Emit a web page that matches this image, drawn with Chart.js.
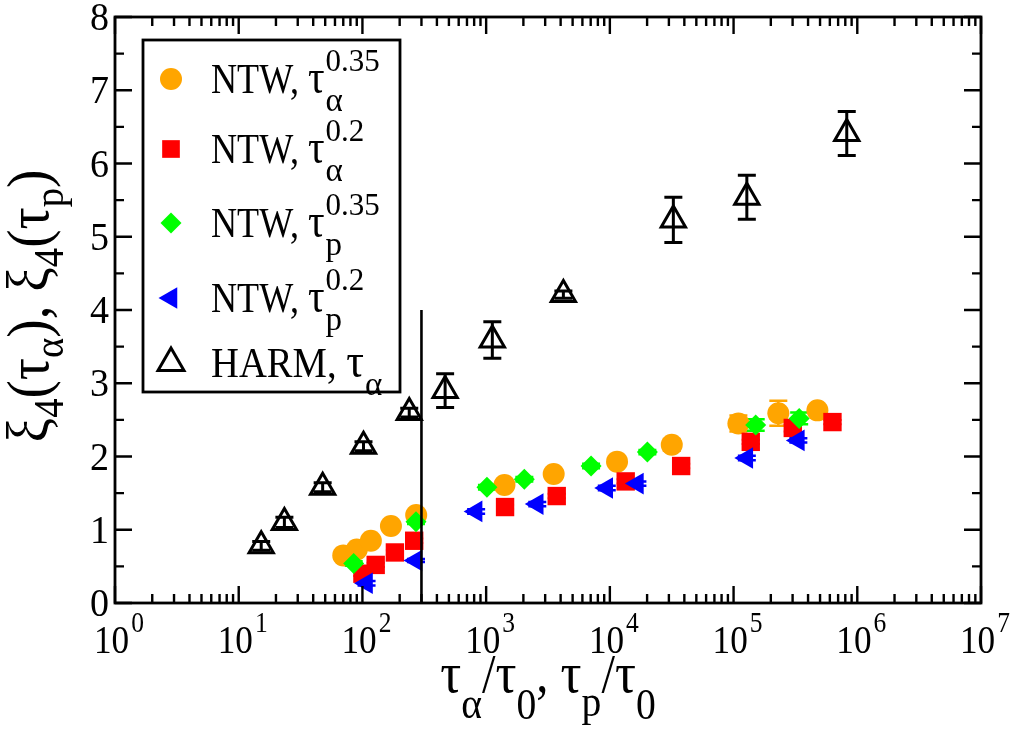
<!DOCTYPE html>
<html><head><meta charset="utf-8">
<script src="https://cdn.jsdelivr.net/npm/chart.js@4/dist/chart.umd.min.js"></script>
<style>html,body{margin:0;padding:0;background:#fff;}canvas{display:block;}</style>
</head><body>
<canvas id="c" width="1010" height="729"></canvas>
<script>
// ---------- data ----------
const ntwAlpha035X = [70, 90, 117, 170, 272, 1406, 3515, 11430, 31650, 109400, 230000, 476000];
const ntwAlpha035Y = [0.65, 0.73, 0.85, 1.05, 1.20, 1.61, 1.76, 1.93, 2.16, 2.45, 2.59, 2.63];
const ntwAlpha035E = [0.02, 0.02, 0.02, 0.02, 0.03, 0.03, 0.03, 0.03, 0.08, 0.11, 0.17, 0.04];

const ntwAlpha02X = [100, 128, 183, 262, 1422, 3720, 13430, 37700, 137700, 301000, 630000];
const ntwAlpha02Y = [0.40, 0.52, 0.69, 0.85, 1.31, 1.46, 1.66, 1.87, 2.20, 2.39, 2.47];
const ntwAlpha02E = [0.03, 0.03, 0.03, 0.03, 0.03, 0.03, 0.03, 0.03, 0.03, 0.05, 0.03];

const ntwP035X = [85, 271, 1015, 2036, 7050, 20100, 151000, 339000];
const ntwP035Y = [0.54, 1.11, 1.58, 1.69, 1.87, 2.06, 2.43, 2.52];
const ntwP035E = [0.03, 0.03, 0.03, 0.03, 0.03, 0.03, 0.08, 0.08];

const ntwP02X = [108, 271, 830, 2590, 9440, 16700, 128000, 334000];
const ntwP02Y = [0.27, 0.58, 1.25, 1.35, 1.57, 1.63, 1.98, 2.22];
const ntwP02E = [0.03, 0.02, 0.03, 0.03, 0.03, 0.03, 0.03, 0.03];

const harmX = [15.2, 23.4, 47.7, 102, 239, 466, 1122, 4210, 32600, 128000, 822000];
const harmY = [0.78, 1.10, 1.58, 2.14, 2.60, 2.90, 3.59, 4.21, 5.23, 5.54, 6.41];
const harmE = [0.06, 0.07, 0.06, 0.06, 0.06, 0.23, 0.25, 0.05, 0.31, 0.30, 0.30];

const crossoverX = [300, 300];
const crossoverY = [0, 4];

const xTickExponents = [0, 1, 2, 3, 4, 5, 6, 7];
const yTickValues = [0, 1, 2, 3, 4, 5, 6, 7, 8];

// ---------- helpers ----------
const FF = "'Liberation Serif','Times New Roman',serif";
function pts(xs, ys) { return xs.map((x, i) => ({ x: x, y: ys[i] })); }

function richWidth(ctx, parts, sx) {
  let w = 0;
  parts.forEach(p => {
    ctx.font = p.size + 'px ' + FF;
    const mw = ctx.measureText(p.t).width * sx;
    p.w = p.w0 ? 0 : mw + (p.gap || 0);
    w += p.w;
  });
  return w;
}
function drawRich(ctx, parts, x, y, align, sx) {
  const w = richWidth(ctx, parts, sx);
  let cx = align === 'center' ? x - w / 2 : (align === 'right' ? x - w : x);
  ctx.textAlign = 'left'; ctx.textBaseline = 'alphabetic'; ctx.fillStyle = '#000';
  parts.forEach(p => {
    ctx.save();
    ctx.font = p.size + 'px ' + FF;
    ctx.translate(cx + (p.dx || 0), y + (p.dy || 0));
    ctx.scale(sx, 1);
    ctx.fillText(p.t, 0, 0);
    ctx.restore();
    cx += p.w;
  });
}

const errorBarPlugin = {
  id: 'errorBars',
  beforeDatasetsDraw(chart) {
    const ctx = chart.ctx, xs = chart.scales.x, ys = chart.scales.y, a = chart.chartArea;
    ctx.save();
    ctx.beginPath(); ctx.rect(a.left, a.top, a.right - a.left, a.bottom - a.top); ctx.clip();
    chart.data.datasets.forEach(ds => {
      if (!ds.errors) return;
      ctx.strokeStyle = ds.errColor; ctx.lineWidth = ds.errWidth;
      ds.data.forEach((p, i) => {
        const e = ds.errors[i];
        const px = xs.getPixelForValue(p.x);
        const y1 = ys.getPixelForValue(p.y - e), y2 = ys.getPixelForValue(p.y + e);
        const hw = ds.capHalf;
        ctx.beginPath();
        ctx.moveTo(px, y1); ctx.lineTo(px, y2);
        ctx.moveTo(px - hw, y1); ctx.lineTo(px + hw, y1);
        ctx.moveTo(px - hw, y2); ctx.lineTo(px + hw, y2);
        ctx.stroke();
      });
    });
    ctx.restore();
  }
};

const framePlugin = {
  id: 'frame',
  afterDraw(chart) {
    const ctx = chart.ctx, xs = chart.scales.x, ys = chart.scales.y, a = chart.chartArea;
    ctx.save();
    ctx.strokeStyle = '#000'; ctx.lineWidth = 2.8; ctx.lineCap = 'butt';
    ctx.strokeRect(a.left, a.top, a.right - a.left, a.bottom - a.top);
    const MAJ = 17, MIN = 9;
    ctx.lineWidth = 2.4;
    ctx.beginPath();
    for (let d = 0; d <= 7; d++) {
      for (let m = 1; m <= 9; m++) {
        const v = m * Math.pow(10, d);
        if (v > 1e7) break;
        const px = xs.getPixelForValue(v);
        const L = m === 1 ? MAJ : MIN;
        ctx.moveTo(px, a.bottom); ctx.lineTo(px, a.bottom - L);
        ctx.moveTo(px, a.top); ctx.lineTo(px, a.top + L);
      }
    }
    for (let v = 0; v <= 8.001; v += 0.5) {
      const py = ys.getPixelForValue(v);
      const L = Math.abs(v - Math.round(v)) < 1e-6 ? MAJ : MIN;
      ctx.moveTo(a.left, py); ctx.lineTo(a.left + L, py);
      ctx.moveTo(a.right, py); ctx.lineTo(a.right - L, py);
    }
    ctx.stroke();

    // y tick labels
    yTickValues.forEach(v => {
      const py = ys.getPixelForValue(v);
      drawRich(ctx, [{ t: String(v), size: 40 }], a.left - 6, py + 13, 'right', 0.95);
    });
    // x tick labels
    xTickExponents.forEach(n => {
      const px = xs.getPixelForValue(Math.pow(10, n));
      drawRich(ctx, [{ t: '10', size: 40 }, { t: String(n), size: 29, dy: -21, dx: 2 }], px + 3, a.bottom + 50, 'center', 0.88);
    });

    // x axis title
    drawRich(ctx, [
      { t: 'τ', size: 58 }, { t: 'α', size: 44, dy: 26 },
      { t: '/', size: 54 }, { t: 'τ', size: 58 }, { t: '0', size: 44, dy: 27 },
      { t: ', ', size: 54 },
      { t: 'τ', size: 58 }, { t: 'p', size: 44, dy: 24 },
      { t: '/', size: 54 }, { t: 'τ', size: 58 }, { t: '0', size: 44, dy: 27 }
    ], (a.left + a.right) / 2, 692, 'center', 0.9);

    // y axis title (rotated)
    ctx.save();
    ctx.translate(48, (a.top + a.bottom) / 2 - 4);
    ctx.rotate(-Math.PI / 2);
    drawRich(ctx, [
      { t: 'ξ', size: 60 }, { t: '4', size: 42, dy: 15 },
      { t: '(', size: 60 }, { t: 'τ', size: 60 }, { t: 'α', size: 42, dy: 15 }, { t: ')', size: 60 },
      { t: ', ', size: 60 },
      { t: 'ξ', size: 60 }, { t: '4', size: 42, dy: 15 },
      { t: '(', size: 60 }, { t: 'τ', size: 60 }, { t: 'p', size: 42, dy: 15 }, { t: ')', size: 60 }
    ], 0, 0, 'center', 0.92);
    ctx.restore();

    // legend
    const lx = 143, ly = 40, lw = 257, lh = 352;
    ctx.fillStyle = '#fff';
    ctx.fillRect(lx, ly, lw, lh);
    ctx.strokeStyle = '#000'; ctx.lineWidth = 2.8;
    ctx.strokeRect(lx, ly, lw, lh);
    const rows = [79, 149, 223, 298, 363];
    chart.data.datasets.forEach(ds => {
      if (ds.legendRow === undefined) return;
      const ry = rows[ds.legendRow];
      ctx.save();
      ctx.fillStyle = ds.pointBackgroundColor; ctx.strokeStyle = ds.pointBorderColor;
      ctx.lineWidth = ds.pointBorderWidth;
      Chart.helpers.drawPoint(ctx, { pointStyle: ds.pointStyle, radius: ds.legendRadius, rotation: ds.pointRotation || 0, borderWidth: ds.pointBorderWidth }, 171, ry);
      ctx.restore();
      ctx.save();
      ctx.fillStyle = '#000'; ctx.textAlign = 'left'; ctx.textBaseline = 'alphabetic';
      const sx = ds.legendSx;
      ctx.font = '42px ' + FF;
      const word = ds.legendWord + ', ';
      const ww = ctx.measureText(word).width * sx;
      ctx.save(); ctx.translate(211, ry + 14); ctx.scale(sx, 1); ctx.fillText(word, 0, 0); ctx.restore();
      ctx.font = '48px ' + FF;
      const tw = ctx.measureText('τ').width * sx;
      ctx.save(); ctx.translate(211 + ww, ry + 14); ctx.scale(sx, 1); ctx.fillText('τ', 0, 0); ctx.restore();
      const sxp = 211 + ww + tw + 1;
      ctx.font = '33px ' + FF;
      ctx.fillText(ds.legendSub, sxp, ry + 32);
      if (ds.legendSup) { ctx.font = '31px ' + FF; ctx.fillText(ds.legendSup, sxp, ry - 8); }
      ctx.restore();
    });
    ctx.restore();
  }
};

const datasets = [
  {
    label: 'NTW, τα^0.35', data: pts(ntwAlpha035X, ntwAlpha035Y), errors: ntwAlpha035E,
    errColor: '#FFA500', errWidth: 2.5, capHalf: 9,
    pointStyle: 'circle', pointRadius: 11, legendRadius: 11,
    pointBackgroundColor: '#FFA500', pointBorderColor: '#FFA500', pointBorderWidth: 0,
    showLine: false, order: 5, legendRow: 0, legendWord: 'NTW', legendSub: 'α', legendSup: '0.35', legendSx: 0.86
  },
  {
    label: 'NTW, τα^0.2', data: pts(ntwAlpha02X, ntwAlpha02Y), errors: ntwAlpha02E,
    errColor: '#FF0000', errWidth: 2, capHalf: 9,
    pointStyle: 'rect', pointRadius: 13, legendRadius: 12.5,
    pointBackgroundColor: '#FF0000', pointBorderColor: '#FF0000', pointBorderWidth: 0,
    showLine: false, order: 4, legendRow: 1, legendWord: 'NTW', legendSub: 'α', legendSup: '0.2', legendSx: 0.86
  },
  {
    label: 'NTW, τp^0.35', data: pts(ntwP035X, ntwP035Y), errors: ntwP035E,
    errColor: '#00FF00', errWidth: 2.5, capHalf: 9,
    pointStyle: 'rectRot', pointRadius: 10.5, legendRadius: 10.5,
    pointBackgroundColor: '#00FF00', pointBorderColor: '#00FF00', pointBorderWidth: 0,
    showLine: false, order: 3, legendRow: 2, legendWord: 'NTW', legendSub: 'p', legendSup: '0.35', legendSx: 0.86
  },
  {
    label: 'NTW, τp^0.2', data: pts(ntwP02X, ntwP02Y), errors: ntwP02E,
    errColor: '#0000FF', errWidth: 2.5, capHalf: 9,
    pointStyle: 'triangle', pointRotation: -90, pointRadius: 12.5, legendRadius: 12.5,
    pointBackgroundColor: '#0000FF', pointBorderColor: '#0000FF', pointBorderWidth: 0,
    showLine: false, order: 2, legendRow: 3, legendWord: 'NTW', legendSub: 'p', legendSup: '0.2', legendSx: 0.86
  },
  {
    label: 'HARM, τα', data: pts(harmX, harmY), errors: harmE,
    errColor: '#000000', errWidth: 3, capHalf: 9,
    pointStyle: 'triangle', pointRadius: 14, legendRadius: 15,
    pointBackgroundColor: 'rgba(0,0,0,0)', pointBorderColor: '#000000', pointBorderWidth: 3,
    showLine: false, order: 1, legendRow: 4, legendWord: 'HARM', legendSub: 'α', legendSup: null, legendSx: 0.92
  },
  {
    label: 'crossover', data: pts(crossoverX, crossoverY), type: 'line',
    borderColor: '#000', borderWidth: 2.6, pointRadius: 0, showLine: true, fill: false, order: 0
  }
];

new Chart(document.getElementById('c'), {
  type: 'scatter',
  data: { datasets: datasets },
  options: {
    responsive: false, animation: false, devicePixelRatio: 1,
    layout: { padding: { left: 115, right: 29, top: 13, bottom: 126 } },
    plugins: { legend: { display: false }, tooltip: { enabled: false } },
    scales: {
      x: { type: 'logarithmic', min: 1, max: 1e7, display: false },
      y: { type: 'linear', min: 0, max: 8, display: false }
    }
  },
  plugins: [errorBarPlugin, framePlugin]
});
</script>
</body></html>
